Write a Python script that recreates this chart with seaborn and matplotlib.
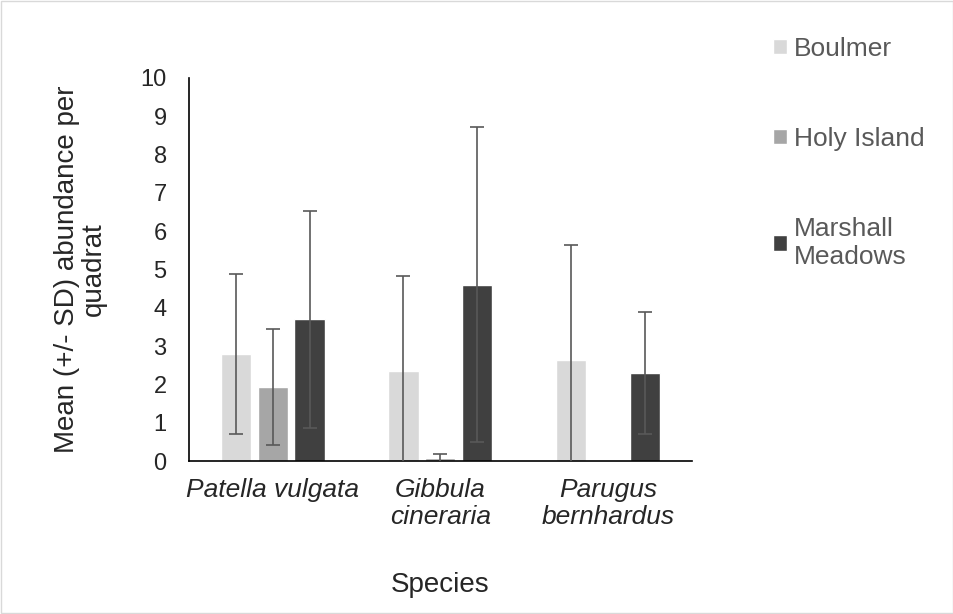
import matplotlib
matplotlib.use('Agg')
from matplotlib import pyplot as plt
from matplotlib.patches import Rectangle
import seaborn as sns
import pandas as pd

species = ['Patella vulgata', 'Gibbula\ncineraria', 'Parugus\nbernhardus']
sites = ['Boulmer', 'Holy Island', 'Marshall\nMeadows']
means = {
    'Boulmer': [2.80, 2.36, 2.63],
    'Holy Island': [1.94, 0.07, 0.0],
    'Marshall\nMeadows': [3.70, 4.60, 2.29],
}
sds = {
    'Boulmer': [2.08, 2.47, 3.02],
    'Holy Island': [1.52, 0.11, 0.0],
    'Marshall\nMeadows': [2.84, 4.11, 1.59],
}
colors = ['#d9d9d9', '#a6a6a6', '#404040']


def BuildFrame():
    rows = []
    for s in sites:
        for i, sp in enumerate(species):
            rows.append({'Species': sp, 'Site': s, 'mean': means[s][i], 'sd': sds[s][i]})
    return pd.DataFrame(rows)


def PlotAll(pd_data, out):
    sns.set_style('white')
    plt.rcParams['font.family'] = ['Liberation Sans', 'DejaVu Sans']
    fig = plt.figure(figsize=(9.54, 6.14), dpi=100)
    axe = fig.add_axes([0.198, 0.249, 0.527, 0.624])
    sns.barplot(data=pd_data, x='Species', y='mean', hue='Site', palette=colors,
                width=0.66, gap=0.18, errorbar=None, ax=axe, legend=True,
                saturation=1)
    # error bars from the bar centres
    for cont, s in zip(axe.containers, sites):
        for patch, m, sd in zip(cont.patches, means[s], sds[s]):
            xc = patch.get_x() + patch.get_width() / 2
            if sd > 0:
                axe.errorbar(xc, m, yerr=sd, color='#595959', lw=1.2,
                             capsize=5, capthick=1.2, zorder=5)
    axe.set_ylim(0, 10)
    axe.set_yticks(range(0, 11))
    axe.set_xlim(-0.5, 2.5)
    axe.set_xticks(range(3))
    axe.set_xticklabels(species, fontstyle='italic', fontsize=19, va='top',
                        linespacing=1.15)
    axe.set_xticks([-0.5, 0.5, 1.5, 2.5], minor=True)
    axe.tick_params(axis='x', which='major', length=0, pad=12)
    axe.tick_params(axis='x', which='minor', length=6, width=1, color='black', direction='out')
    axe.tick_params(axis='y', length=6, width=1, color='black', direction='out',
                    labelsize=17, pad=10)
    for sp in ['top', 'right']:
        axe.spines[sp].set_visible(False)
    for sp in ['left', 'bottom']:
        axe.spines[sp].set_color('black')
        axe.spines[sp].set_linewidth(1.2)
    axe.set_xlabel('Species', fontsize=20, labelpad=31)
    axe.set_ylabel('Mean (+/- SD) abundance per\nquadrat', fontsize=20, labelpad=24,
                   linespacing=1.05)
    handles, labels = axe.get_legend_handles_labels()
    axe.get_legend().remove()
    fig.legend(handles, labels, loc='upper left', bbox_to_anchor=(0.81, 0.94),
               frameon=False, fontsize=19, handlelength=0.55, handleheight=0.55,
               handletextpad=0.25, labelspacing=2.5, labelcolor='#595959',
               borderaxespad=0, borderpad=0)
    # light chart border
    fig.patches.append(Rectangle((0.001, 0.001), 0.998, 0.998, transform=fig.transFigure,
                                 fill=False, edgecolor='#d9d9d9', lw=1))
    fig.savefig(out, dpi=100)


def main():
    pd_data = BuildFrame()
    PlotAll(pd_data, 'out.png')


if __name__ == '__main__':
    main()
